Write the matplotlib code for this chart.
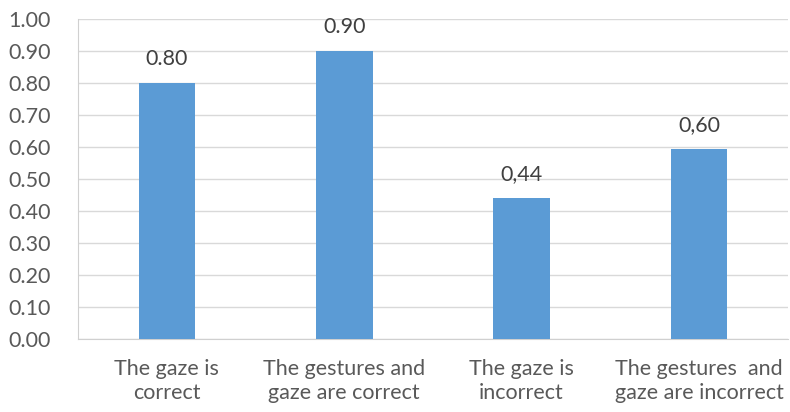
import matplotlib.pyplot as plt

categories = ["The gaze is\ncorrect", "The gestures and\ngaze are correct",
              "The gaze is\nincorrect", "The gestures  and\ngaze are incorrect"]
values = [0.80, 0.90, 0.44, 0.595]
value_labels = ["0.80", "0.90", "0,44", "0,60"]
yticks = [0.0, 0.1, 0.2, 0.3, 0.4, 0.5, 0.6, 0.7, 0.8, 0.9, 1.0]

plt.rcParams['font.family'] = ["Lato", "DejaVu Sans"]

txt = "#595959"
fig = plt.figure(figsize=(7.9, 4.12), dpi=100)
ax = fig.add_axes([0.099, 0.177, 0.898, 0.777])

x = range(len(categories))
bars = ax.bar(x, values, width=0.32, color="#5b9bd5", zorder=3)
for b, lab in zip(bars, value_labels):
    ax.annotate(lab, (b.get_x() + b.get_width() / 2, b.get_height()),
                xytext=(0, 10), textcoords="offset points", ha="center", va="bottom",
                fontsize=15.5, color="#404040")

ax.set_xlim(-0.5, len(categories) - 0.5)
ax.set_ylim(0, 1.0)
ax.set_yticks(yticks)
ax.set_yticklabels([f"{t:.2f}" for t in yticks])
ax.set_xticks(list(x))
ax.set_xticklabels(categories, linespacing=1.3)
ax.tick_params(axis="y", length=0, pad=20, labelsize=15.5, labelcolor=txt)
ax.tick_params(axis="x", length=0, pad=14, labelsize=15.5, labelcolor=txt)
ax.grid(axis="y", color="#d9d9d9", linewidth=1, zorder=0)
for s in ["top", "right"]:
    ax.spines[s].set_visible(False)
ax.spines["left"].set_color("#d0d0d0")
ax.spines["left"].set_linestyle((0, (1, 1)))
ax.spines["bottom"].set_color("#d0d0d0")

fig.savefig("out.png", dpi=100)
